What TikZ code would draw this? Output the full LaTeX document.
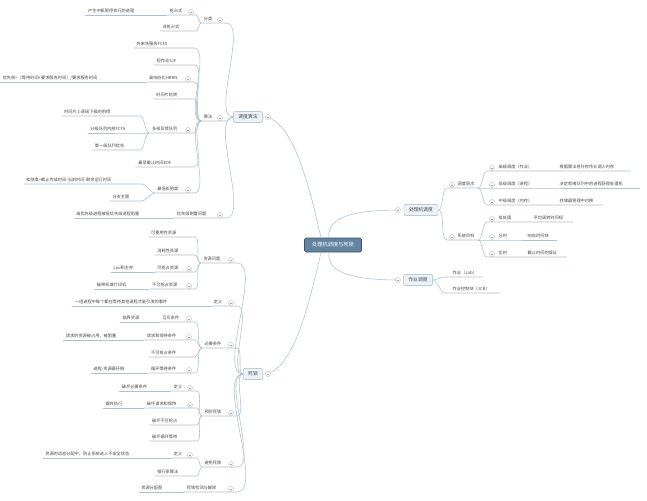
\documentclass[tikz,border=0pt]{standalone}
\usepackage{fontspec}
\newfontfamily\cjk{Noto Sans CJK SC}
\definecolor{lncol}{RGB}{172,194,212}
\definecolor{bxfill}{RGB}{236,242,247}
\definecolor{bxdraw}{RGB}{160,182,200}
\definecolor{rtfill}{RGB}{98,132,160}
\definecolor{rtdraw}{RGB}{58,84,108}
\definecolor{txcol}{RGB}{70,70,70}
\begin{document}
\begin{tikzpicture}[x=1pt,y=-1pt,
 txt/.style={font=\cjk\fontsize{4.2}{5}\selectfont,text=txcol,inner sep=0.5pt},
 ln/.style={draw=lncol,line width=0.55pt},
 box/.style={font=\cjk\fontsize{4.8}{6}\selectfont,text=txcol,draw=bxdraw,fill=bxfill,rounded corners=1.5pt,minimum height=9pt,inner xsep=5pt},
 root/.style={font=\cjk\fontsize{5.2}{6}\selectfont,text=white,draw=rtdraw,fill=rtfill,rounded corners=1.5pt,minimum height=14pt,minimum width=57pt,line width=0.7pt},
 circ/.style={circle,draw=gray!55,fill=white,minimum size=5pt,inner sep=0pt,line width=0.4pt,
   path picture={\draw[gray!70,line width=0.4pt] ([xshift=-1.4pt]path picture bounding box.center) -- ([xshift=1.4pt]path picture bounding box.center);}}]
\useasboundingbox (0,0) rectangle (647,500);
\fill[white] (0,0) rectangle (647,500);
% left child: name, right x, y, junction x, parent point, text
\newcommand\LK[6]{\node[txt,anchor=east] (#1) at (#2,#3) {#6};
 \coordinate (#1J) at (#4,#3+4);
 \coordinate (#1L) at ([xshift=-2pt]#1.west |- #1J);
 \draw[ln] (#1L) -- (#1J) to[out=0,in=180,looseness=0.6] (#5);}
% grandchild on same line
\newcommand\GC[4]{\node[txt,anchor=east] (#1) at (#2,0 |- #3.east) {#4};
 \draw[ln] ([xshift=-2pt]#1.west |- #3J) -- (#3L);}
\newcommand\CI[3]{\node[circ] (#1) at (#2,#3+1) {};}
% right child: name, left x, y, junction x, parent point, text, right end
\newcommand\RK[7]{\node[txt,anchor=west] (#1) at (#2,#3) {#6};
 \coordinate (#1J) at (#4,#3+4); \coordinate (#1R) at (#7,#3+4);
 \draw[ln] (#5) to[out=0,in=180,looseness=0.6] (#1J) -- (#1R);}
\newcommand\RT[4]{\node[txt,anchor=west] (#1) at (#2,#3) {#4};}

% main nodes
\node[root] (root) at (333,245) {处理机调度与死锁};
\node[box] (sdsf) at (248,117) {调度算法};
\node[box] (sisuo) at (253,374) {死锁};
\node[box] (clj) at (421,210) {处理机调度};
\node[box] (zy) at (418,280) {作业调度};
\draw[ln] (sdsf.east) .. controls (295,117) and (312,200) .. ([xshift=-12pt]root.north);
\draw[ln] (sisuo.east) .. controls (295,374) and (312,290) .. ([xshift=-12pt]root.south);
\draw[ln] ([xshift=-4pt]root.north) .. controls (326,215) and (360,210) .. ([xshift=-4pt]clj.west);
\draw[ln] ([xshift=-4pt]root.south) .. controls (326,275) and (360,280) .. ([xshift=-4pt]zy.west);
\CI{c0a}{268}{116}\CI{c0b}{268}{373}\CI{c0c}{398}{209}\CI{c0d}{398}{279}

% ---- 调度算法
\LK{fl}{213}{19}{226}{sdsf.west}{分类}
\LK{sf}{213}{117}{226}{sdsf.west}{算法}
\LK{yxj}{207}{214}{226}{sdsf.west}{优先级倒置问题}
\CI{c1}{220}{19}\CI{c2}{220}{117}\CI{c3}{220}{214}
\LK{qzs}{183}{11}{196}{flL}{抢占式}
\LK{fqzs}{180}{27}{196}{flL}{非抢占式}
\CI{c4}{191}{11}
\GC{g1}{135}{qzs}{产生中断暂停执行的进程}
\LK{fcfs}{168}{44}{194}{sfL}{先来先服务FCFS}
\LK{sjf}{177}{61}{194}{sfL}{短作业SJF}
\LK{hrrn}{178}{78}{194}{sfL}{高响应比HRRN}
\LK{rr}{178}{95}{194}{sfL}{时间片轮转}
\LK{djfk}{178}{129}{194}{sfL}{多级反馈队列}
\LK{edf}{172}{163}{194}{sfL}{最早截止时间EDF}
\LK{llf}{179}{189}{194}{sfL}{最低松弛度}
\CI{c5}{188}{78}\CI{c6}{188}{129}\CI{c7}{188}{189}
\GC{g2}{98}{hrrn}{优先权=（等待时间+要求服务时间）/要求服务时间}
\LK{dj1}{111}{112}{140}{djfkL}{时间片上逐级下级的用得}
\LK{dj2}{126}{129}{140}{djfkL}{分级队列内部FCFS}
\LK{dj3}{125}{146}{140}{djfkL}{第一级队列优先}
\LK{ll1}{112}{180}{142}{llfL}{松弛度=截止完成时间-当前时间-剩余运行时间}
\LK{ll2}{130}{197}{142}{llfL}{分支主题}
\GC{g3}{140}{yxj}{高优先级进程被低优先级进程阻塞}

% ---- 死锁
\LK{zywt}{221}{259}{237}{sisuo.west}{资源问题}
\LK{dy}{223}{302}{237}{sisuo.west}{定义}
\LK{bytj}{222}{344}{237}{sisuo.west}{必要条件}
\LK{yfsl}{222}{412}{237}{sisuo.west}{预防死锁}
\LK{bmsl}{222}{463}{237}{sisuo.west}{避免死锁}
\LK{jcjc}{217}{488}{237}{sisuo.west}{死锁检测与解除}
\CI{c8}{231}{259}\CI{c9}{231}{302}\CI{c10}{231}{344}\CI{c11}{231}{412}\CI{c12}{231}{463}\CI{c13}{231}{488}
\GC{g4}{168}{dy}{一组进程中每个都在等待其他进程才能引发的事件}
\GC{g5}{163}{jcjc}{资源分配图}
\LK{kcy}{177}{233}{195}{zywtL}{可重用性资源}
\LK{xh}{179}{251}{195}{zywtL}{消耗性资源}
\LK{kqz}{179}{268}{195}{zywtL}{可抢占资源}
\LK{bkqz}{178}{285}{195}{zywtL}{不可抢占资源}
\CI{c14}{189}{268}\CI{c15}{189}{285}
\GC{g6}{134}{kqz}{cpu和主存}
\GC{g7}{127}{bkqz}{磁带机或打印机}
\LK{hc}{180}{318}{195}{bytjL}{互斥条件}
\LK{qqbc}{177}{336}{195}{bytjL}{请求和保持条件}
\LK{bkqztj}{177}{353}{195}{bytjL}{不可抢占条件}
\LK{xhdd}{177}{369}{195}{bytjL}{循环等待条件}
\CI{c16}{189}{318}\CI{c17}{189}{336}\CI{c18}{189}{369}
\GC{g8}{140}{hc}{临界资源}
\GC{g9}{117}{qqbc}{请求的资源被占用，被阻塞}
\GC{g10}{125}{xhdd}{进程-资源循环链}
\LK{yd}{183}{387}{197}{yfslL}{定义}
\LK{pq}{177}{404}{197}{yfslL}{破坏请求和保持}
\LK{pb}{178}{421}{197}{yfslL}{破坏不可抢占}
\LK{px}{178}{437}{197}{yfslL}{破坏循环等待}
\CI{c19}{190}{387}\CI{c20}{190}{404}
\GC{g11}{148}{yd}{破坏必要条件}
\GC{g12}{123}{pq}{摒弃执行}
\LK{bd}{183}{454}{197}{bmslL}{定义}
\LK{yhj}{179}{472}{197}{bmslL}{银行家算法}
\CI{c21}{190}{454}
\GC{g13}{130}{bd}{资源的动态分配中，防止系统进入不安全状态}

% ---- 右侧
\RK{ddcc}{457}{184}{447}{clj.east}{调度层次}{478}
\RK{xtmb}{457}{236}{447}{clj.east}{系统目标}{478}
\CI{c22}{452}{184}\CI{c23}{452}{236}
\RK{gj}{498}{167}{487}{ddccR}{高级调度（作业）}{630}
\RK{dj}{498}{184}{487}{ddccR}{低级调度（进程）}{640}
\RK{zj}{498}{201}{487}{ddccR}{中级调度（内存）}{603}
\CI{c24}{492}{167}\CI{c25}{492}{184}\CI{c26}{492}{201}
\RT{t1}{559}{167}{根据算法将外存作业调入内存}
\RT{t2}{559}{184}{决定就绪队列中的进程获得处理机}
\RT{t3}{559}{201}{存储器管理中对换}
\RK{pcl}{498}{218}{487}{xtmbR}{批处理}{573}
\RK{fs}{498}{236}{487}{xtmbR}{分时}{557}
\RK{ss}{498}{253}{487}{xtmbR}{实时}{567}
\CI{c27}{492}{218}\CI{c28}{492}{236}\CI{c29}{492}{253}
\RT{t4}{533}{218}{平均周转时间短}
\RT{t5}{527}{236}{响应时间快}
\RT{t6}{527}{253}{截止时间的保证}
\RK{job}{452}{273}{445}{zy.east}{作业（Job）}{483}
\RK{jcb}{452}{289}{445}{zy.east}{作业控制块（JCB）}{500}
\end{tikzpicture}
\end{document}
